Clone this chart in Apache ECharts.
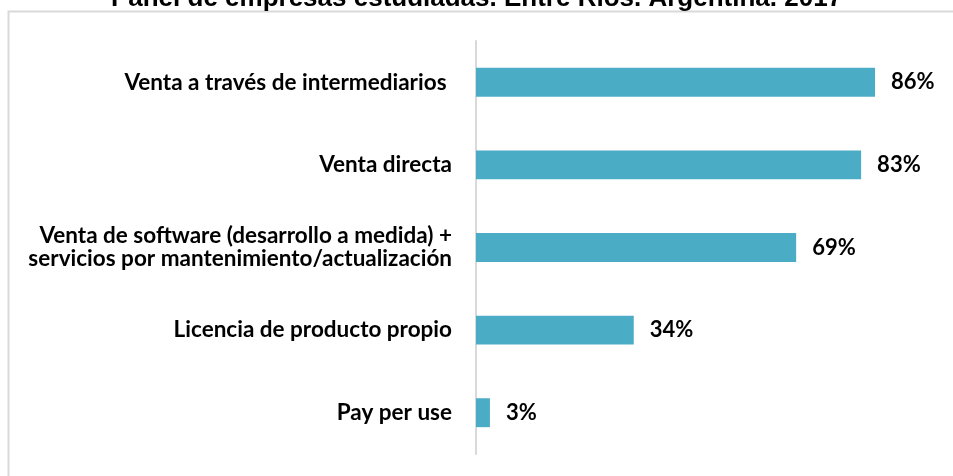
<!DOCTYPE html>
<html>
<head>
<meta charset="utf-8">
<script src="https://cdn.jsdelivr.net/npm/echarts@6/dist/echarts.min.js"></script>
<style>
  html, body { margin: 0; padding: 0; background: #ffffff; }
  #chart { width: 953px; height: 476px; }
</style>
</head>
<body>
<div id="chart"></div>
<script>
// Modelos de comercialización de las empresas del panel
const chartTitle = 'Panel de empresas estudiadas. Entre Ríos. Argentina. 2017';
const categories = [
  'Venta a través de intermediarios ',
  'Venta directa',
  'Venta de software (desarrollo a medida) +\nservicios por mantenimiento/actualización',
  'Licencia de producto propio',
  'Pay per use'
];
const shares = [86, 83, 69, 34, 3];

const fontStack = 'Lato, "Open Sans", "Liberation Sans", sans-serif';

const chart = echarts.init(document.getElementById('chart'), null, { renderer: 'canvas' });

chart.setOption({
  backgroundColor: '#ffffff',
  animation: false,
  title: {
    text: chartTitle,
    left: 'center',
    top: -19,
    textStyle: {
      fontFamily: '"Liberation Sans", Arial, sans-serif',
      fontWeight: 'bold',
      fontSize: 26,
      color: '#000000'
    }
  },
  graphic: [{
    type: 'rect',
    shape: { x: 8.5, y: 11.5, width: 960, height: 480 },
    style: { fill: null, stroke: '#d9d9d9', lineWidth: 2 },
    silent: true,
    z: -1
  }],
  grid: {
    left: 476,
    right: 13,
    top: 41,
    bottom: 22,
    containLabel: false
  },
  xAxis: {
    type: 'value',
    min: 0,
    max: 100,
    show: false
  },
  yAxis: {
    type: 'category',
    inverse: true,
    data: categories,
    axisLine: { show: true, lineStyle: { color: '#d9d9d9', width: 2 } },
    axisTick: { show: false },
    axisLabel: {
      margin: 24,
      fontFamily: fontStack,
      fontWeight: 'bold',
      fontSize: 22.5,
      lineHeight: 23,
      color: '#000000',
      align: 'right'
    }
  },
  series: [{
    type: 'bar',
    data: shares,
    barWidth: '35%',
    itemStyle: { color: '#4bacc6' },
    label: {
      show: true,
      position: 'right',
      distance: 16,
      formatter: '{c}%',
      fontFamily: fontStack,
      fontWeight: 'bold',
      fontSize: 22,
      color: '#000000'
    }
  }]
});
</script>
</body>
</html>
